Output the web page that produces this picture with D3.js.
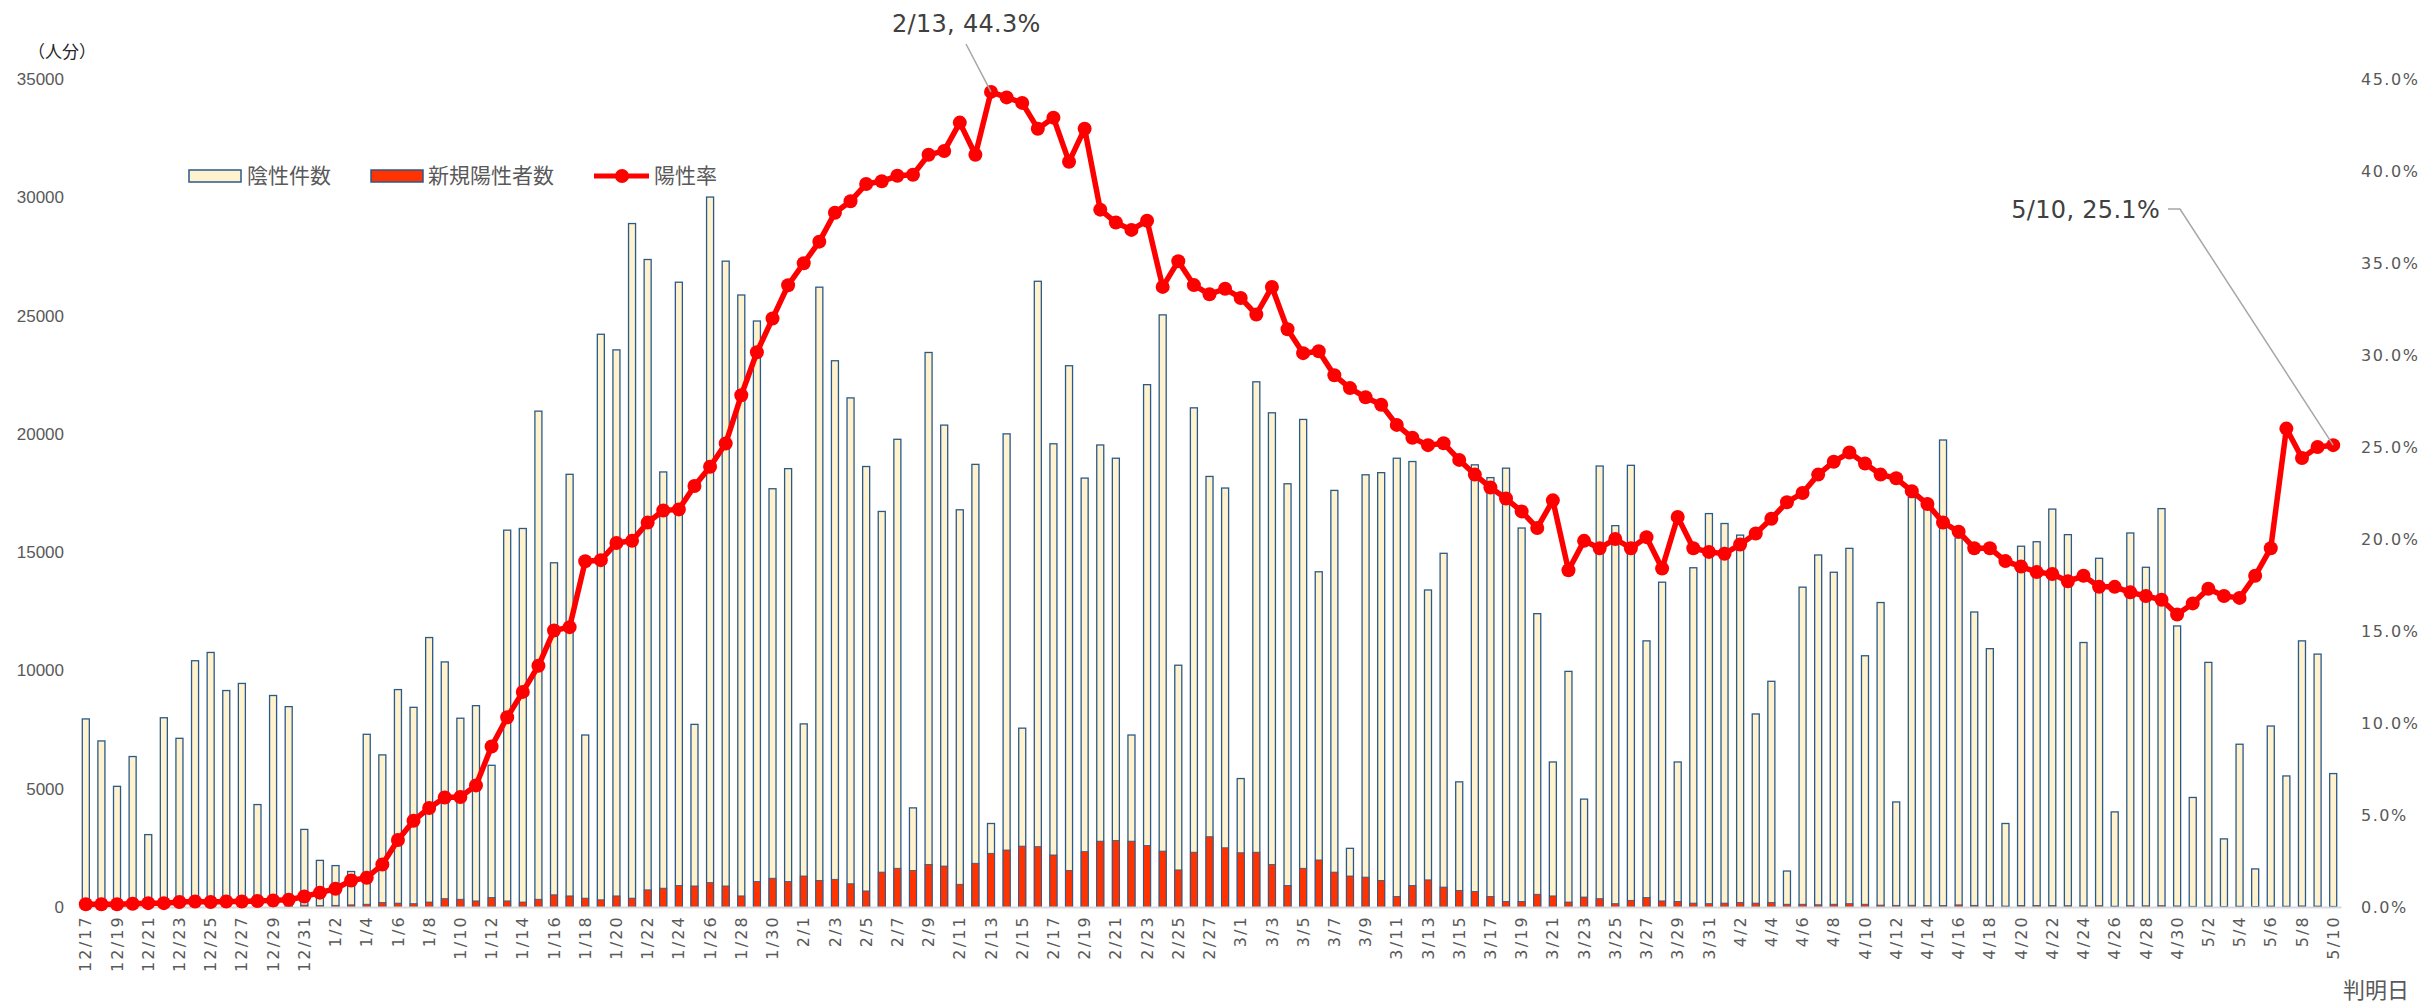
<!DOCTYPE html>
<html lang="ja">
  <head>
    <meta charset="utf-8">
    <title>陽性率</title>
    <style>
      body { margin: 0; background: #fff; }
      svg { display: block; }
    </style>
  </head>
  <body>
<svg id="chart" width="2423" height="1006"></svg>

<script src="https://d3js.org/d3.v7.min.js"></script>
<script>
  // 判明日
  var dates = [
    "12/17","12/18","12/19","12/20","12/21","12/22","12/23","12/24","12/25","12/26","12/27","12/28","12/29","12/30","12/31",
    "1/1","1/2","1/3","1/4","1/5","1/6","1/7","1/8","1/9","1/10","1/11","1/12","1/13","1/14","1/15","1/16",
    "1/17","1/18","1/19","1/20","1/21","1/22","1/23","1/24","1/25","1/26","1/27","1/28","1/29","1/30","1/31",
    "2/1","2/2","2/3","2/4","2/5","2/6","2/7","2/8","2/9","2/10","2/11","2/12","2/13","2/14",
    "2/15","2/16","2/17","2/18","2/19","2/20","2/21","2/22","2/23","2/24","2/25","2/26","2/27","2/28",
    "3/1","3/2","3/3","3/4","3/5","3/6","3/7","3/8","3/9","3/10","3/11","3/12","3/13","3/14","3/15","3/16",
    "3/17","3/18","3/19","3/20","3/21","3/22","3/23","3/24","3/25","3/26","3/27","3/28","3/29","3/30","3/31",
    "4/1","4/2","4/3","4/4","4/5","4/6","4/7","4/8","4/9","4/10","4/11","4/12","4/13","4/14","4/15",
    "4/16","4/17","4/18","4/19","4/20","4/21","4/22","4/23","4/24","4/25","4/26","4/27","4/28","4/29","4/30",
    "5/1","5/2","5/3","5/4","5/5","5/6","5/7","5/8","5/9","5/10"
  ];

  // 陰性件数
  var negatives = [
    7950,7020,5100,6360,3060,8000,7130,10410,10760,9150,9450,4330,8940,8470,3280,
    1970,1750,1500,7300,6430,9190,8440,11390,10360,7980,8510,5990,15930,16000,20960,14550,
    18290,7270,24210,23550,28890,27370,18390,26410,7720,30010,27300,25870,24770,17680,18530,
    7740,26200,23090,21520,18620,16720,19770,4190,23440,20370,16790,18710,3530,20000,
    7560,26450,19580,22880,18130,19530,18970,7270,22080,25030,10220,21100,18200,17710,
    5430,22200,20890,17890,20610,14170,17610,2480,18270,18360,18970,18830,13400,14950,5290,18690,
    18150,18550,16020,12400,6130,9960,4560,18640,16120,18670,11250,13730,6130,14340,16630,
    16210,15720,8160,9540,1520,13520,14880,14150,15160,10620,12870,4440,17310,16840,19740,
    15600,12470,10920,3530,15250,15440,16820,15740,11180,14740,4020,15810,14360,16840,11880,
    4630,10340,2880,6880,1610,7650,5540,11250,10690,5640
  ];

  // 新規陽性者数
  var positives = [
    30,35,30,40,35,40,45,50,40,45,50,45,55,60,80,
    60,70,90,117,187,164,140,210,351,327,257,398,257,210,327,515,
    468,374,304,468,374,725,795,912,889,1029,889,468,1076,1216,1076,
    1310,1123,1170,982,678,1474,1637,1544,1801,1731,959,1848,2269,2409,
    2573,2550,2199,1544,2339,2783,2807,2783,2596,2362,1567,2316,2971,2503,
    2292,2316,1801,912,1637,1988,1474,1310,1263,1123,444,912,1146,842,702,655,
    444,234,234,538,468,210,421,351,140,281,398,257,234,164,140,
    164,187,164,187,117,117,94,117,140,117,80,70,75,65,60,
    90,70,55,40,60,65,60,55,50,55,35,55,50,55,45,
    30,40,25,35,20,40,35,45,40,30
  ];

  // 陽性率 (%)
  var rates = [
    0.15,0.15,0.15,0.18,0.21,0.21,0.27,0.30,0.27,0.30,0.30,0.33,0.36,0.39,0.57,
    0.78,0.99,1.44,1.59,2.31,3.64,4.69,5.38,5.95,5.98,6.61,8.72,10.31,11.69,13.11,15.03,
    15.21,18.79,18.85,19.78,19.90,20.89,21.55,21.61,22.88,23.93,25.19,27.81,30.15,31.98,33.79,
    34.99,36.16,37.73,38.36,39.29,39.44,39.74,39.80,40.88,41.09,42.63,40.88,44.3,44.0,
    43.7,42.3,42.9,40.5,42.3,37.9,37.2,36.8,37.3,33.7,35.1,33.8,33.3,33.6,
    33.1,32.2,33.7,31.4,30.1,30.2,28.9,28.2,27.7,27.3,26.2,25.5,25.1,25.2,24.3,23.5,
    22.8,22.2,21.5,20.6,22.1,18.3,19.9,19.5,20.0,19.5,20.1,18.4,21.2,19.5,19.3,
    19.2,19.7,20.3,21.1,22.0,22.5,23.5,24.2,24.7,24.1,23.5,23.3,22.6,21.9,20.9,
    20.4,19.5,19.5,18.8,18.5,18.2,18.1,17.7,18.0,17.4,17.4,17.1,16.9,16.7,15.9,
    16.5,17.3,16.9,16.8,18.0,19.5,26.0,24.4,25.0,25.1
  ];

  var countTicks = [0,5000,10000,15000,20000,25000,30000,35000];
  var rateTicks = [0,5,10,15,20,25,30,35,40,45];
  var callouts = [
    {"label": "2/13, 44.3%", "date": "2/13"},
    {"label": "5/10, 25.1%", "date": "5/10"}
  ];

  var panel = d3.select("#chart");
  var h = parseInt(panel.attr("height"));
  var w = parseInt(panel.attr("width"));

  var cjk = "'Noto Sans CJK JP', 'Noto Sans', sans-serif";
  var grey = "#595959";

  let xScale = d3.scaleBand()
    .domain(dates)
    .range([78, 2341])
    .paddingInner(0.55)
    .paddingOuter(0.275);

  let yLeft = d3.scaleLinear()
    .domain([0, 35000])
    .range([907, 79]);

  let yRight = d3.scaleLinear()
    .domain([0, 45])
    .range([907, 79]);

  let cx = d => xScale(d) + xScale.bandwidth() / 2;

  // left axis
  let leftAxis = panel.append("g")
    .attr("transform", "translate(64,0)")
    .call(d3.axisLeft(yLeft).tickValues(countTicks).tickSize(0).tickPadding(0).tickFormat(d3.format("d")));
  leftAxis.select(".domain").remove();
  leftAxis.selectAll("text")
    .attr("fill", grey)
    .style("font-family", "'Liberation Sans', Arial, sans-serif")
    .style("font-size", "17px");

  // right axis
  let rightAxis = panel.append("g")
    .attr("transform", "translate(2361,0)")
    .call(d3.axisRight(yRight).tickValues(rateTicks).tickSize(0).tickPadding(0).tickFormat(d => d.toFixed(1) + "%"));
  rightAxis.select(".domain").remove();
  rightAxis.selectAll("text")
    .attr("fill", grey)
    .style("font-family", "'DejaVu Sans', sans-serif")
    .style("font-size", "16px")
    .style("letter-spacing", "1.5px");

  // negatives
  panel.append("g").selectAll("rect")
    .data(dates)
    .join("rect")
      .attr("x", d => xScale(d))
      .attr("width", xScale.bandwidth())
      .attr("y", (d, i) => yLeft(negatives[i]))
      .attr("height", (d, i) => yLeft(0) - yLeft(negatives[i]))
      .attr("fill", "#FFF2CC")
      .attr("stroke", "#2A5A8C")
      .attr("stroke-width", 1.3);

  // positives
  panel.append("g").selectAll("rect")
    .data(dates)
    .join("rect")
      .attr("x", d => xScale(d))
      .attr("width", xScale.bandwidth())
      .attr("y", (d, i) => yLeft(positives[i]))
      .attr("height", (d, i) => yLeft(0) - yLeft(positives[i]))
      .attr("fill", "#FF3300")
      .attr("stroke", "#2A5A8C")
      .attr("stroke-width", 0.8);

  // x axis
  let bottomAxis = panel.append("g")
    .attr("transform", "translate(0,907)")
    .call(d3.axisBottom(xScale).tickValues(dates.filter((d, i) => i % 2 == 0)).tickSize(0).tickPadding(0));
  bottomAxis.select(".domain")
    .attr("stroke", "#D9D9D9")
    .attr("stroke-width", 2);
  bottomAxis.selectAll("text")
    .attr("fill", grey)
    .attr("text-anchor", "end")
    .attr("dy", "0.35em")
    .attr("transform", "translate(0,8) rotate(-90)")
    .attr("x", 0)
    .attr("y", 0)
    .style("font-family", "'DejaVu Sans', sans-serif")
    .style("font-size", "16px")
    .style("letter-spacing", "2.2px");

  // rate line
  let linez = d3.line()
    .x((d, i) => cx(dates[i]))
    .y(d => yRight(d));

  panel.append("path")
    .attr("d", linez(rates))
    .attr("fill", "none")
    .attr("stroke", "#FF0000")
    .attr("stroke-width", 5.5)
    .attr("stroke-linejoin", "round");

  panel.append("g").selectAll("circle")
    .data(rates)
    .join("circle")
      .attr("cx", (d, i) => cx(dates[i]))
      .attr("cy", d => yRight(d))
      .attr("r", 7)
      .attr("fill", "#FF0000");

  // callouts
  let c1 = callouts[0];
  let i1 = dates.indexOf(c1.date);
  panel.append("line")
    .attr("x1", 966).attr("y1", 44)
    .attr("x2", cx(c1.date)).attr("y2", yRight(rates[i1]))
    .attr("stroke", "#A6A6A6")
    .attr("stroke-width", 1.5);
  panel.append("text")
    .text(c1.label)
    .attr("x", 892)
    .attr("y", 32)
    .attr("fill", "#404040")
    .style("font-family", "'DejaVu Sans', sans-serif")
    .style("font-size", "24px")
    .style("letter-spacing", "0.3px");

  let c2 = callouts[1];
  let i2 = dates.indexOf(c2.date);
  panel.append("polyline")
    .attr("points", [[2168, 209], [2180, 209], [cx(c2.date), yRight(rates[i2])]].join(" "))
    .attr("fill", "none")
    .attr("stroke", "#A6A6A6")
    .attr("stroke-width", 1.5);
  panel.append("text")
    .text(c2.label)
    .attr("x", 2160)
    .attr("y", 218)
    .attr("text-anchor", "end")
    .attr("fill", "#404040")
    .style("font-family", "'DejaVu Sans', sans-serif")
    .style("font-size", "24px")
    .style("letter-spacing", "0.3px");

  // legend
  let legend = panel.append("g")
    .style("font-family", cjk)
    .style("font-size", "21px");
  legend.append("rect")
    .attr("x", 189).attr("y", 170).attr("width", 52).attr("height", 12)
    .attr("fill", "#FFF2CC").attr("stroke", "#2A5A8C").attr("stroke-width", 1.5);
  legend.append("text").text("陰性件数")
    .attr("x", 247).attr("y", 177).attr("dominant-baseline", "middle").attr("fill", grey);
  legend.append("rect")
    .attr("x", 371).attr("y", 170).attr("width", 52).attr("height", 12)
    .attr("fill", "#FF3300").attr("stroke", "#2A5A8C").attr("stroke-width", 1.5);
  legend.append("text").text("新規陽性者数")
    .attr("x", 428).attr("y", 177).attr("dominant-baseline", "middle").attr("fill", grey);
  legend.append("line")
    .attr("x1", 594).attr("x2", 649).attr("y1", 176).attr("y2", 176)
    .attr("stroke", "#FF0000").attr("stroke-width", 5);
  legend.append("circle")
    .attr("cx", 622).attr("cy", 176).attr("r", 7).attr("fill", "#FF0000");
  legend.append("text").text("陽性率")
    .attr("x", 654).attr("y", 177).attr("dominant-baseline", "middle").attr("fill", grey);

  // unit and axis titles
  panel.append("text").text("（人分）")
    .attr("x", 28).attr("y", 53)
    .attr("dominant-baseline", "middle")
    .attr("fill", "#262626")
    .style("font-family", cjk)
    .style("font-size", "17px");

  panel.append("text").text("判明日")
    .attr("x", 2343).attr("y", 992)
    .attr("dominant-baseline", "middle")
    .attr("fill", grey)
    .style("font-family", cjk)
    .style("font-size", "22px");
</script>
</body>
</html>
